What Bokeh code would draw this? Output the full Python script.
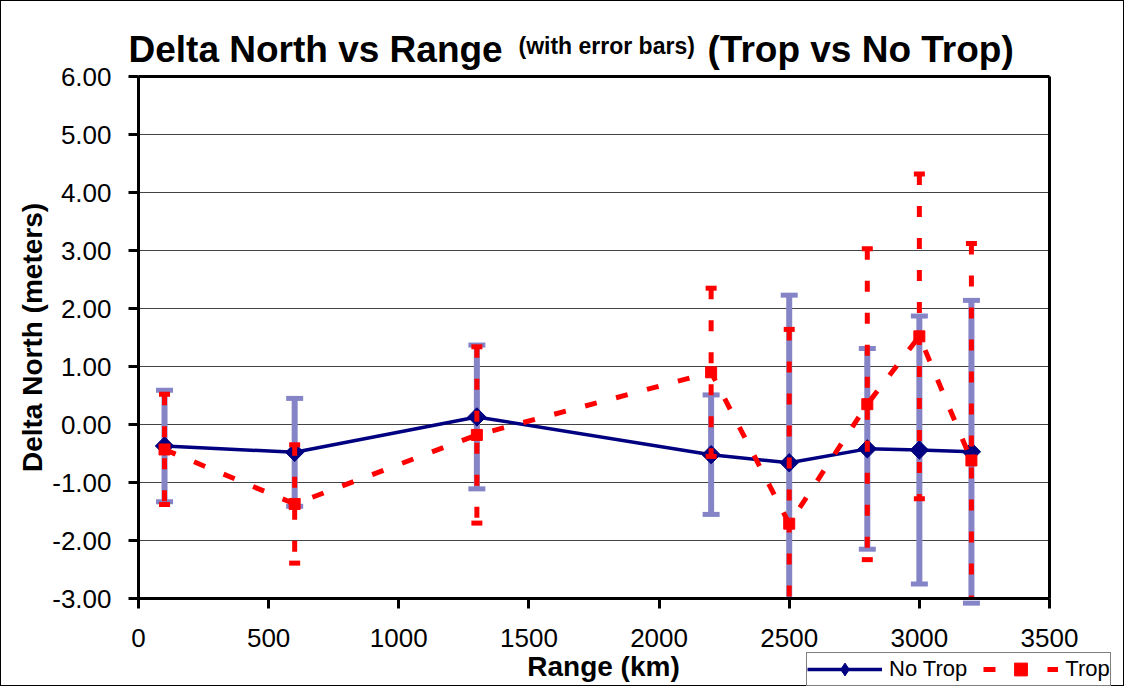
import numpy as np
from bokeh.plotting import figure
from bokeh.models import (ColumnDataSource, FixedTicker, NumeralTickFormatter, Label,
                          Legend, LegendItem, Range1d)
from bokeh.embed import file_html
from bokeh.resources import INLINE

# ---------------- data ----------------
range_km = [100, 600, 1300, 2200, 2500, 2800, 3000, 3200]
no_trop = [-0.37, -0.48, 0.13, -0.52, -0.66, -0.42, -0.44, -0.47]
no_trop_err = [0.96, 0.93, 1.24, 1.03, 2.89, 1.73, 2.31, 2.61]
trop = [-0.43, -1.37, -0.18, 0.90, -1.71, 0.35, 1.52, -0.62]
trop_err = [0.95, 1.02, 1.52, 1.45, 3.35, 2.68, 2.80, 3.74]

x_ticks = [0, 500, 1000, 1500, 2000, 2500, 3000, 3500]
y_ticks = [-3, -2, -1, 0, 1, 2, 3, 4, 5, 6]
x_min, x_max = 0, 3500
y_min, y_max = -3, 6

title_main = "Delta North vs Range"
title_small = "(with error bars)"
title_tail = "(Trop vs No Trop)"
x_label = "Range (km)"
y_label = "Delta North (meters)"
series_names = ["No Trop", "Trop"]

# ---------------- layout / styles ----------------
FONT = "Liberation Sans"
NAVY = "#000080"
RED = "#FF0000"
LAV = "#8484C6"
GRID = "#444444"

FIG_W, FIG_H = 1124, 686          # canvas (a 1px css border is added around it)
PLOT_L, PLOT_T = 137, 75          # pixel position of the plot area inside the canvas
PLOT_W, PLOT_H = 911, 522         # pixel size of the plot area
CAP_TOL = 0.1

kx = (x_max - x_min) / PLOT_W
ky = (y_max - y_min) / PLOT_H
x_rng = Range1d(x_min - PLOT_L * kx, x_max + (FIG_W - PLOT_L - PLOT_W) * kx)
y_rng = Range1d(y_min - (FIG_H - PLOT_T - PLOT_H) * ky, y_max + PLOT_T * ky)


def sources(vals, errs):
    v = np.array(vals)
    e = np.array(errs)
    hi, lo = v + e, v - e
    bars = ColumnDataSource(dict(x=range_km, hi=np.minimum(hi, y_max),
                                 lo=np.maximum(lo, y_min)))
    keep_hi = hi <= y_max + CAP_TOL
    keep_lo = lo >= y_min - CAP_TOL
    caps = ColumnDataSource(dict(
        x=list(np.array(range_km)[keep_hi]) + list(np.array(range_km)[keep_lo]),
        y=list(hi[keep_hi]) + list(lo[keep_lo])))
    pts = ColumnDataSource(dict(x=range_km, y=vals))
    return bars, caps, pts


nt_bars, nt_caps, nt_pts = sources(no_trop, no_trop_err)
t_bars, t_caps, t_pts = sources(trop, trop_err)

p = figure(width=FIG_W, height=FIG_H, title=None,
           min_border_left=0, min_border_right=0, min_border_top=0, min_border_bottom=0,
           x_range=x_rng, y_range=y_rng,
           output_backend="svg", toolbar_location=None,
           background_fill_color="white", border_fill_color="white")
p.styles = {"border": "1px solid black"}
p.outline_line_color = None
p.xgrid.visible = False
p.ygrid.visible = False

# axes drawn at the plot-area edges
p.xaxis.fixed_location = y_min
p.yaxis.fixed_location = x_min
p.xaxis.bounds = (x_min, x_max)
p.yaxis.bounds = (y_min, y_max)
p.xaxis.ticker = FixedTicker(ticks=x_ticks)
p.yaxis.ticker = FixedTicker(ticks=y_ticks)
p.yaxis.formatter = NumeralTickFormatter(format="0.00")
for ax in (p.xaxis, p.yaxis):
    ax.axis_line_width = 3
    ax.axis_line_color = "black"
    ax.major_tick_line_width = 3
    ax.major_tick_line_color = "black"
    ax.major_tick_out = 10
    ax.major_tick_in = 0
    ax.minor_tick_line_color = None
    ax.major_label_text_font = FONT
    ax.major_label_text_font_size = "26px"
    ax.major_label_text_color = "black"
p.xaxis.major_label_standoff = 20
p.yaxis.major_label_standoff = 17

# horizontal gridlines and the top / right borders of the plot area
n = len(y_ticks)
p.segment(x0=[x_min] * n, y0=y_ticks, x1=[x_max] * n, y1=y_ticks,
          line_color=GRID, line_width=1)
p.segment(x0=[x_min, x_max], y0=[y_max, y_min], x1=[x_max, x_max], y1=[y_max, y_max],
          line_color="black", line_width=3)

# ---- No Trop: error bars, line, markers ----
p.segment(x0="x", y0="lo", x1="x", y1="hi", source=nt_bars, line_color=LAV, line_width=6)
p.scatter(x="x", y="y", source=nt_caps, marker="dash", size=17,
          line_color=LAV, line_width=5)
nt_line = p.line(x="x", y="y", source=nt_pts, line_color=NAVY, line_width=3.5)
# diamond (used as the legend swatch); covered by the wider rotated square below
nt_key = p.scatter(x="x", y="y", source=nt_pts, marker="diamond", size=14,
                   fill_color=NAVY, line_color=NAVY)
p.scatter(x="x", y="y", source=nt_pts, marker="square", angle=np.pi / 4,
          size=13, fill_color=NAVY, line_color=NAVY)

# ---- Trop: error bars, line, markers ----
p.segment(x0="x", y0="hi", x1="x", y1="lo", source=t_bars,
          line_color=RED, line_width=5, line_dash="11 21")
p.scatter(x="x", y="y", source=t_caps, marker="dash", size=11,
          line_color=RED, line_width=5)
t_line = p.line(x="x", y="y", source=t_pts, line_color=RED, line_width=5,
                line_dash="12 20")
t_mark = p.scatter(x="x", y="y", source=t_pts, marker="square", size=11,
                   fill_color=RED, line_color=RED)

# ---- texts (screen units from the canvas' bottom-left corner) ----
def label(text, x, y, size, align="left", angle=0.0, baseline="alphabetic"):
    p.add_layout(Label(x=x, y=y, x_units="screen", y_units="screen", text=text,
                       text_font=FONT, text_font_size=size, text_font_style="bold",
                       text_color="black", text_align=align, text_baseline=baseline,
                       angle=angle))


label(title_main, 127, 638, "37px")
label(title_small, 517, 642, "23px")
label(title_tail, 706, 638, "37px")
label(x_label, 602, 21, "28px", align="center")
label(y_label, 31, 350, "28px", align="center", angle=np.pi / 2, baseline="middle")

# ---- legend ----
legend = Legend(items=[LegendItem(label=series_names[0], renderers=[nt_line, nt_key]),
                       LegendItem(label=series_names[1], renderers=[t_line, t_mark])],
                location=(805, 1), orientation="horizontal",
                label_text_font=FONT, label_text_font_size="22px", label_text_color="black",
                glyph_width=75, glyph_height=32, label_standoff=7, spacing=16,
                padding=0, margin=0,
                border_line_color="black", border_line_width=1,
                background_fill_color="white", background_fill_alpha=1)
p.add_layout(legend)

open("out.html", "w").write(file_html(p, INLINE))
